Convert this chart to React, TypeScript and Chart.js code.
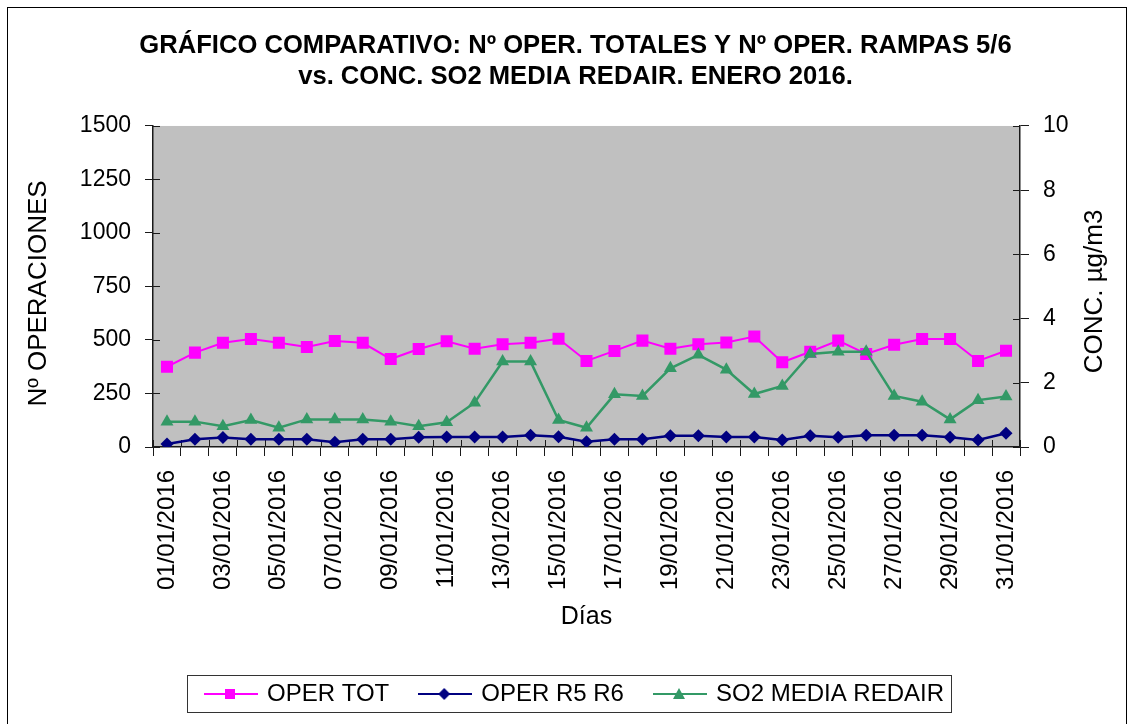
import React, { useEffect, useRef } from 'react';
import { Chart, registerables } from 'chart.js';

Chart.register(...registerables);

const FONT = '"Liberation Sans", Arial, sans-serif';

const DAYS = [
  '01/01/2016', '02/01/2016', '03/01/2016', '04/01/2016', '05/01/2016', '06/01/2016', '07/01/2016',
  '08/01/2016', '09/01/2016', '10/01/2016', '11/01/2016', '12/01/2016', '13/01/2016', '14/01/2016',
  '15/01/2016', '16/01/2016', '17/01/2016', '18/01/2016', '19/01/2016', '20/01/2016', '21/01/2016',
  '22/01/2016', '23/01/2016', '24/01/2016', '25/01/2016', '26/01/2016', '27/01/2016', '28/01/2016',
  '29/01/2016', '30/01/2016', '31/01/2016',
];

const OPER_TOT = [
  375, 441, 487, 505, 487, 467, 495, 487, 411, 458, 494, 459, 480, 487, 506, 402,
  449, 497, 459, 480, 488, 516, 396, 445, 497, 435, 478, 505, 505, 402, 450,
];

const OPER_R5R6 = [
  14, 36, 44, 36, 36, 36, 22, 36, 36, 45, 47, 47, 47, 55, 48, 25,
  36, 36, 53, 53, 47, 47, 33, 53, 45, 55, 55, 55, 45, 33, 64,
];

const SO2_MEDIA = [
  0.79, 0.79, 0.65, 0.84, 0.6, 0.86, 0.86, 0.86, 0.79, 0.65, 0.77, 1.38, 2.66, 2.66, 0.84, 0.6,
  1.64, 1.59, 2.45, 2.87, 2.41, 1.65, 1.9, 2.9, 2.97, 2.97, 1.59, 1.41, 0.86, 1.46, 1.57,
];

const SERIES_LABELS = ['OPER TOT', 'OPER R5 R6', 'SO2 MEDIA REDAIR'];
const TITLE_LINES = [
  'GRÁFICO COMPARATIVO: Nº OPER. TOTALES Y Nº OPER. RAMPAS 5/6',
  'vs. CONC. SO2 MEDIA REDAIR. ENERO 2016.',
];
const LEFT_TITLE = 'Nº OPERACIONES';
const RIGHT_TITLE = 'CONC. µg/m3';
const X_TITLE = 'Días';

const COLORS = ['#FF00FF', '#000080', '#339966'];
const AXIS_COLOR = '#1a1a1a';

function makeIcon(color: string, shape: string): HTMLCanvasElement {
  const c = document.createElement('canvas');
  c.width = 54;
  c.height = 14;
  const g = c.getContext('2d')!;
  g.strokeStyle = color;
  g.fillStyle = color;
  g.lineWidth = 2;
  g.beginPath();
  g.moveTo(0, 7);
  g.lineTo(54, 7);
  g.stroke();
  const cx = 26;
  const cy = 7;
  g.beginPath();
  if (shape === 'rect') {
    g.rect(cx - 5, cy - 5, 10, 10);
  } else if (shape === 'diamond') {
    g.moveTo(cx, cy - 6);
    g.lineTo(cx + 6, cy);
    g.lineTo(cx, cy + 6);
    g.lineTo(cx - 6, cy);
    g.closePath();
  } else {
    g.moveTo(cx, cy - 6);
    g.lineTo(cx + 6, cy + 5);
    g.lineTo(cx - 6, cy + 5);
    g.closePath();
  }
  g.fill();
  return c;
}

function drawVerticalText(ctx: CanvasRenderingContext2D, text: string, x: number, y: number) {
  ctx.save();
  ctx.fillStyle = '#000';
  ctx.font = `26px ${FONT}`;
  ctx.textAlign = 'center';
  ctx.textBaseline = 'middle';
  ctx.translate(x, y);
  ctx.rotate(-Math.PI / 2);
  ctx.fillText(text, 0, 0);
  ctx.restore();
}

const decorPlugin = {
  id: 'decor',
  beforeDraw(chart: any) {
    const { ctx, chartArea: a } = chart;
    ctx.save();
    ctx.fillStyle = '#ffffff';
    ctx.fillRect(0, 0, chart.width, chart.height);
    ctx.strokeStyle = '#000000';
    ctx.lineWidth = 1;
    ctx.strokeRect(7.5, 7.5, chart.width - 12, chart.height + 20);
    ctx.fillStyle = '#C0C0C0';
    ctx.fillRect(a.left, a.top, a.right - a.left, a.bottom - a.top);
    ctx.restore();
  },
  beforeDatasetsDraw(chart: any) {
    const { ctx, chartArea: a, scales } = chart;
    ctx.save();
    ctx.strokeStyle = AXIS_COLOR;
    ctx.lineWidth = 1;
    const ys = scales.y;
    ys.ticks.forEach((_t: any, i: number) => {
      const y = Math.round(ys.getPixelForTick(i)) + 0.5;
      ctx.beginPath();
      ctx.moveTo(a.left, y);
      ctx.lineTo(a.left + 7, y);
      ctx.stroke();
    });
    const y1 = scales.y1;
    y1.ticks.forEach((_t: any, i: number) => {
      const y = Math.round(y1.getPixelForTick(i)) + 0.5;
      ctx.beginPath();
      ctx.moveTo(a.right - 7, y);
      ctx.lineTo(a.right, y);
      ctx.stroke();
    });
    const xs = scales.x;
    for (let i = 0; i <= DAYS.length; i++) {
      const x = Math.round(xs.getPixelForValue(i - 0.5)) + 0.5;
      ctx.beginPath();
      ctx.moveTo(x, a.bottom - 7);
      ctx.lineTo(x, a.bottom);
      ctx.stroke();
    }
    ctx.restore();
  },
  afterDraw(chart: any) {
    const { ctx, chartArea: a } = chart;
    const midY = (a.top + a.bottom) / 2;
    drawVerticalText(ctx, LEFT_TITLE, 39, midY + 7);
    drawVerticalText(ctx, RIGHT_TITLE, 1095, midY + 5);

    // legend frame
    const hb = chart.legend && chart.legend.legendHitBoxes;
    if (hb && hb.length) {
      const first = hb[0];
      const last = hb[hb.length - 1];
      const left = Math.round(first.left - 20) + 0.5;
      const right = Math.round(last.left + last.width + 7) + 0.5;
      const top = Math.round(first.top - 7) + 0.5;
      const bottom = Math.round(first.top + 30) + 0.5;
      ctx.save();
      ctx.strokeStyle = '#333';
      ctx.lineWidth = 1;
      ctx.strokeRect(left, top, right - left, bottom - top);
      ctx.restore();
    }
  },
};

export default function App() {
  const ref = useRef<HTMLCanvasElement>(null);

  useEffect(() => {
    if (!ref.current) return;
    const icons = [
      makeIcon(COLORS[0], 'rect'),
      makeIcon(COLORS[1], 'diamond'),
      makeIcon(COLORS[2], 'triangle'),
    ];
    Chart.defaults.font.family = FONT;
    Chart.defaults.color = '#000';

    const chart = new Chart(ref.current, {
      type: 'line',
      data: {
        labels: DAYS,
        datasets: [
          {
            label: SERIES_LABELS[0],
            data: OPER_TOT,
            yAxisID: 'y',
            borderColor: COLORS[0],
            backgroundColor: COLORS[0],
            borderWidth: 2,
            pointStyle: 'rect',
            pointRadius: 8.5,
            pointBorderWidth: 0,
            pointBackgroundColor: COLORS[0],
            tension: 0,
            order: 2,
          },
          {
            label: SERIES_LABELS[1],
            data: OPER_R5R6,
            yAxisID: 'y',
            borderColor: COLORS[1],
            backgroundColor: COLORS[1],
            borderWidth: 2.5,
            pointStyle: 'rectRot',
            pointRadius: 6.5,
            pointBorderWidth: 0,
            pointBackgroundColor: COLORS[1],
            tension: 0,
            order: 1,
          },
          {
            label: SERIES_LABELS[2],
            data: SO2_MEDIA,
            yAxisID: 'y1',
            borderColor: COLORS[2],
            backgroundColor: COLORS[2],
            borderWidth: 2.5,
            pointStyle: 'triangle',
            pointRadius: 7.5,
            pointBorderWidth: 0,
            pointBackgroundColor: COLORS[2],
            tension: 0,
            order: 0,
          },
        ],
      },
      options: {
        responsive: false,
        animation: false,
        layout: { padding: { left: 20, right: 0, top: 0, bottom: 8 } },
        plugins: {
          tooltip: { enabled: false },
          title: {
            display: true,
            text: TITLE_LINES,
            color: '#000',
            font: { size: 25.6, weight: 'bold', lineHeight: 1.22 },
            padding: { top: 30.5, bottom: 33 },
          },
          legend: {
            position: 'bottom',
            labels: {
              usePointStyle: true,
              pointStyleWidth: 48,
              boxHeight: 24,
              padding: 32,
              color: '#000',
              font: { size: 24 },
              generateLabels: (c: any) =>
                c.data.datasets.map((ds: any, i: number) => ({
                  text: ds.label,
                  pointStyle: icons[i],
                  fillStyle: 'rgba(0,0,0,0)',
                  strokeStyle: 'rgba(0,0,0,0)',
                  lineWidth: 0,
                  hidden: false,
                  datasetIndex: i,
                  fontColor: '#000',
                })),
            },
          },
        },
        scales: {
          x: {
            offset: true,
            grid: { offset: true, drawOnChartArea: false, drawTicks: true, tickLength: 9, color: AXIS_COLOR },
            border: { display: true, color: AXIS_COLOR, width: 1.5 },
            ticks: {
              autoSkip: false,
              maxRotation: 90,
              minRotation: 90,
              padding: 14,
              color: '#000',
              font: { size: 24 },
              callback: (_v: any, i: number) => (i % 2 === 0 ? DAYS[i] : ''),
            },
            title: {
              display: true,
              text: X_TITLE,
              color: '#000',
              font: { size: 25 },
              padding: { top: 0, bottom: 18 },
            },
            afterFit: (s: any) => {
              s.height = 203;
            },
          },
          y: {
            position: 'left',
            min: 0,
            max: 1500,
            grid: { drawOnChartArea: false, tickLength: 8, color: AXIS_COLOR },
            border: { display: true, color: AXIS_COLOR, width: 1.5 },
            ticks: {
              stepSize: 250,
              padding: 14,
              color: '#000',
              font: { size: 23 },
              callback: (v: any) => String(v),
            },
            afterFit: (s: any) => {
              s.width = 133;
            },
          },
          y1: {
            position: 'right',
            min: 0,
            max: 10,
            grid: { drawOnChartArea: false, tickLength: 9, color: AXIS_COLOR },
            border: { display: true, color: AXIS_COLOR, width: 1.5 },
            ticks: {
              stepSize: 2,
              padding: 14,
              color: '#000',
              font: { size: 23 },
              callback: (v: any) => String(v),
            },
            afterFit: (s: any) => {
              s.width = 111;
            },
          },
        },
      },
      plugins: [decorPlugin],
    } as any);

    return () => chart.destroy();
  }, []);

  return (
    <div style={{ position: 'absolute', left: 0, top: 0, width: 1131, height: 724 }}>
      <canvas ref={ref} width={1131} height={724} style={{ display: 'block' }} />
    </div>
  );
}
